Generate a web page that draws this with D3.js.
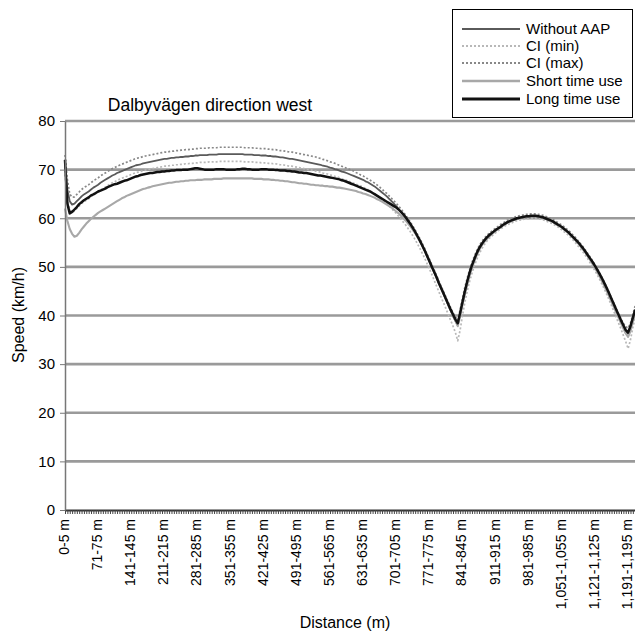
<!DOCTYPE html>
<html><head><meta charset="utf-8">
<script src="https://cdn.jsdelivr.net/npm/d3@7"></script>
<style>body{margin:0;background:#fff}svg{display:block;font-family:"Liberation Sans",Arial,sans-serif}</style>
</head><body><svg id="c" width="635" height="643"></svg>
<script>
// ---- DATA ----
const title = "Dalbyvägen direction west";
const yLabel = "Speed (km/h)";
const xLabel = "Distance (m)";
const yTicks = [0,10,20,30,40,50,60,70,80];
const tickLabels = ["0-5 m","71-75 m","141-145 m","211-215 m","281-285 m","351-355 m","421-425 m","491-495 m","561-565 m","631-635 m","701-705 m","771-775 m","841-845 m","911-915 m","981-985 m","1,051-1,055 m","1,121-1,125 m","1,191-1,195 m"];
const nCategories = 242;
const seriesNames = ["Without AAP","CI (min)","CI (max)","Short time use","Long time use"];

const withoutAAP = [
71,66,63.5,62.8,63,63.5,64,64.5,64.9,65.2,
65.5,65.9,66.3,66.6,66.9,67.3,67.6,67.9,68.2,68.5,
68.8,69,69.3,69.5,69.7,69.9,70.1,70.3,70.5,70.7,
70.9,71,71.1,71.3,71.4,71.5,71.6,71.7,71.8,71.9,
72,72.1,72.2,72.2,72.3,72.4,72.4,72.5,72.5,72.6,
72.6,72.7,72.7,72.8,72.8,72.9,72.9,73,73,73,
73,73.1,73.1,73.1,73.1,73.2,73.2,73.2,73.2,73.2,
73.2,73.2,73.2,73.2,73.2,73.2,73.1,73.1,73.1,73.1,
73,73,73,72.9,72.9,72.9,72.8,72.8,72.7,72.7,
72.6,72.5,72.5,72.4,72.3,72.2,72.2,72.1,72,71.9,
71.8,71.7,71.6,71.5,71.4,71.3,71.2,71.1,71,70.8,
70.7,70.6,70.4,70.3,70.1,70,69.8,69.6,69.5,69.3,
69.1,68.9,68.7,68.5,68.3,68.1,67.9,67.6,67.4,67.1,
66.8,66.5,66.1,65.7,65.3,64.9,64.5,64,63.5,63,
62.5,61.9,61.3,60.7,60.1,59.4,58.7,57.9,57.1,56.2,
55.3,54.3,53.3,52.2,51.1,50,48.9,47.8,46.6,45.5,
44.4,43.3,42.1,41,39.9,38.9,38,40.3,42.6,44.9,
46.9,48.7,50.3,51.6,52.8,53.8,54.6,55.3,55.9,56.4,
56.8,57.2,57.6,57.9,58.2,58.5,58.8,59.1,59.3,59.5,
59.7,59.9,60,60.1,60.2,60.3,60.3,60.4,60.4,60.4,
60.3,60.2,60.1,59.9,59.7,59.5,59.3,59,58.7,58.4,
58.1,57.7,57.3,56.9,56.4,55.9,55.4,54.8,54.2,53.6,
52.9,52.2,51.5,50.7,49.9,49.1,48.2,47.3,46.3,45.3,
44.2,43.1,42,40.9,39.8,38.7,37.6,36.7,36.2,37.2,
39,40.8];

const ciMin = [
69,64,61.8,61.2,61.5,62,62.5,63,63.4,63.7,
64,64.4,64.8,65.1,65.4,65.8,66.1,66.4,66.7,67,
67.3,67.5,67.8,68,68.2,68.4,68.6,68.8,69,69.2,
69.4,69.5,69.6,69.8,69.9,70,70.1,70.2,70.3,70.4,
70.5,70.6,70.7,70.7,70.8,70.9,70.9,71,71,71.1,
71.1,71.2,71.2,71.3,71.3,71.4,71.4,71.5,71.5,71.5,
71.5,71.6,71.6,71.6,71.6,71.7,71.7,71.7,71.7,71.7,
71.7,71.7,71.7,71.7,71.7,71.7,71.6,71.6,71.6,71.6,
71.5,71.5,71.5,71.4,71.4,71.4,71.3,71.3,71.2,71.2,
71.1,71,71,70.9,70.8,70.7,70.7,70.6,70.5,70.4,
70.3,70.2,70.1,70,69.9,69.8,69.7,69.6,69.5,69.3,
69.2,69.1,68.9,68.8,68.6,68.5,68.3,68.1,68,67.8,
67.6,67.4,67.2,67,66.8,66.6,66.4,66.1,65.9,65.6,
65.3,65,64.6,64.2,63.8,63.4,63,62.5,62,61.5,
61,60.4,59.8,59.2,58.6,57.9,57.2,56.4,55.6,54.7,
53.8,52.8,51.8,50.7,49.6,48.5,47.3,46.1,44.9,43.7,
42.6,41.4,40.2,39,37.8,36.5,34.8,37,40,42.7,
45,47,48.7,50.2,51.5,52.6,53.6,54.4,55.1,55.7,
56.2,56.6,57,57.4,57.7,58.1,58.4,58.7,58.9,59.1,
59.3,59.5,59.6,59.7,59.8,59.9,59.9,60,60,60,
59.9,59.8,59.7,59.5,59.3,59.1,58.9,58.6,58.3,58,
57.6,57.2,56.8,56.4,55.9,55.4,54.8,54.2,53.6,53,
52.3,51.6,50.8,50,49.2,48.3,47.4,46.4,45.4,44.3,
43.2,42,40.8,39.6,38.4,37.2,35.9,34.6,33.2,35,
37.5,39.6];

const ciMax = [
73,68,65,64.3,64.4,64.9,65.4,65.9,66.3,66.6,
66.9,67.3,67.7,68,68.3,68.7,69,69.3,69.6,69.9,
70.2,70.4,70.7,70.9,71.1,71.3,71.5,71.7,71.9,72.1,
72.3,72.4,72.5,72.7,72.8,72.9,73,73.1,73.2,73.3,
73.4,73.5,73.6,73.6,73.7,73.8,73.8,73.9,73.9,74,
74,74.1,74.1,74.2,74.2,74.3,74.3,74.4,74.4,74.4,
74.4,74.5,74.5,74.5,74.5,74.6,74.6,74.6,74.6,74.6,
74.6,74.6,74.6,74.6,74.6,74.6,74.5,74.5,74.5,74.5,
74.4,74.4,74.4,74.3,74.3,74.3,74.2,74.2,74.1,74.1,
74,73.9,73.9,73.8,73.7,73.6,73.6,73.5,73.4,73.3,
73.2,73.1,73,72.9,72.8,72.7,72.6,72.4,72.3,72.1,
72,71.8,71.6,71.5,71.3,71.1,70.9,70.7,70.5,70.3,
70.1,69.9,69.7,69.4,69.2,68.9,68.7,68.4,68.1,67.8,
67.5,67.2,66.8,66.4,66,65.5,65.1,64.6,64.1,63.6,
63.1,62.5,61.9,61.3,60.6,59.9,59.2,58.4,57.6,56.7,
55.8,54.8,53.8,52.7,51.6,50.5,49.4,48.3,47.1,46,
44.9,43.8,42.7,41.6,40.6,39.7,39,41.2,43.5,45.8,
47.7,49.4,50.9,52.2,53.3,54.3,55.1,55.8,56.3,56.8,
57.2,57.6,58,58.3,58.7,59,59.3,59.6,59.8,60,
60.2,60.4,60.5,60.6,60.7,60.8,60.8,60.9,60.9,60.9,
60.8,60.7,60.6,60.4,60.2,60,59.8,59.5,59.2,58.9,
58.6,58.2,57.8,57.4,56.9,56.4,55.9,55.3,54.7,54.1,
53.4,52.7,52,51.2,50.4,49.6,48.7,47.8,46.8,45.8,
44.7,43.6,42.5,41.4,40.3,39.3,38.4,37.7,37.4,38.4,
40.2,42];

const shortUse = [
62,59.5,57.8,56.8,56.2,56.4,57,57.7,58.3,58.9,
59.4,59.9,60.3,60.7,61.1,61.4,61.7,62,62.3,62.6,
62.9,63.2,63.5,63.8,64.1,64.3,64.6,64.8,65,65.2,
65.4,65.6,65.8,66,66.1,66.3,66.4,66.6,66.7,66.8,
66.9,67,67.1,67.2,67.3,67.3,67.4,67.5,67.5,67.6,
67.6,67.7,67.7,67.8,67.8,67.8,67.9,67.9,67.9,68,
68,68,68,68.1,68.1,68.1,68.1,68.2,68.2,68.2,
68.2,68.2,68.2,68.2,68.2,68.2,68.2,68.2,68.2,68.2,
68.1,68.1,68.1,68.1,68,68,68,67.9,67.9,67.8,
67.8,67.7,67.7,67.6,67.6,67.5,67.4,67.4,67.3,67.2,
67.2,67.1,67.1,67,66.9,66.9,66.8,66.8,66.7,66.7,
66.6,66.6,66.5,66.5,66.4,66.3,66.3,66.2,66.1,66,
65.9,65.8,65.7,65.6,65.4,65.3,65.1,65,64.8,64.6,
64.4,64.2,63.9,63.7,63.4,63.1,62.8,62.5,62.2,61.8,
61.4,61,60.5,60,59.5,58.9,58.3,57.6,56.9,56.1,
55.3,54.4,53.4,52.4,51.3,50.2,49.1,48,46.8,45.7,
44.5,43.4,42.2,41.1,40,38.9,37.8,39.9,42.2,44.4,
46.4,48.2,49.8,51.2,52.4,53.4,54.3,55,55.6,56.1,
56.5,57,57.4,57.8,58.1,58.5,58.8,59.1,59.3,59.5,
59.7,59.9,60,60.1,60.2,60.3,60.3,60.4,60.4,60.4,
60.3,60.2,60.1,59.9,59.7,59.5,59.3,59,58.7,58.4,
58.1,57.7,57.3,56.9,56.4,55.9,55.4,54.8,54.2,53.6,
52.9,52.2,51.4,50.6,49.8,48.9,48,47,46,45,
43.9,42.8,41.7,40.6,39.5,38.4,37.3,36.3,35.6,36.8,
38.6,40.4];

const longUse = [
72,63,61,61.3,61.8,62.3,62.9,63.3,63.7,64,
64.3,64.7,64.9,65.2,65.5,65.7,65.9,66.1,66.4,66.6,
66.8,67,67.1,67.3,67.5,67.7,67.8,68,68.2,68.4,
68.6,68.7,68.9,69,69.1,69.2,69.3,69.3,69.4,69.5,
69.5,69.6,69.6,69.7,69.7,69.8,69.8,69.9,69.9,69.9,
70,70,70,70.1,70.2,70.3,70.3,70.2,70.1,70,
70,70,70,70,70.1,70.1,70.1,70.1,70,70,
70,70,70,70.1,70.1,70.2,70.2,70.1,70.1,70,
70,70,70,70.1,70.1,70.1,70,70,70,69.9,
69.9,69.8,69.8,69.8,69.7,69.7,69.6,69.6,69.5,69.4,
69.4,69.3,69.3,69.2,69.1,69,68.9,68.8,68.8,68.7,
68.6,68.5,68.4,68.3,68.2,68.1,68,67.8,67.7,67.5,
67.3,67.1,66.9,66.7,66.5,66.3,66.1,65.9,65.7,65.5,
65.2,64.9,64.6,64.3,64,63.7,63.4,63.1,62.8,62.5,
62.2,61.8,61.3,60.8,60.2,59.5,58.8,58,57.2,56.3,
55.4,54.4,53.4,52.3,51.2,50.1,49,47.9,46.7,45.6,
44.5,43.4,42.3,41.2,40.2,39.2,38.4,40.5,42.8,45,
47,48.8,50.3,51.6,52.8,53.8,54.6,55.3,55.9,56.4,
56.8,57.2,57.6,57.9,58.2,58.6,58.9,59.2,59.4,59.6,
59.8,60,60.1,60.2,60.3,60.4,60.4,60.5,60.5,60.5,
60.4,60.3,60.2,60,59.8,59.6,59.4,59.1,58.8,58.5,
58.2,57.8,57.4,57,56.5,56,55.5,55,54.4,53.8,
53.1,52.4,51.7,51,50.2,49.4,48.5,47.6,46.6,45.6,
44.5,43.4,42.3,41.2,40.1,39,38,37,36.5,37.8,
39.5,41.2];

// ---- CHART ----
const categories = d3.range(nCategories).map(i => {
  const f = d3.format(",");
  return (i === 0 ? "0" : f(5*i+1)) + "-" + f(5*i+5) + " m";
});
const seriesData = [withoutAAP, ciMin, ciMax, shortUse, longUse];
const styles = [
  {color:"#5a5a5a", width:1.8, dash:null},
  {color:"#b8b8b8", width:1.7, dash:"2,2"},
  {color:"#888888", width:1.7, dash:"2,2"},
  {color:"#a8a8a8", width:2.1, dash:null},
  {color:"#111111", width:2.5, dash:null}
];

const svg = d3.select("#c");
const x = d3.scalePoint().domain(categories).range([65, 65 + 241*2.366]);
const y = d3.scaleLinear().domain([0,80]).range([510,121]);

// gridlines
svg.append("g").selectAll("line").data(yTicks.filter(d=>d>0)).join("line")
  .attr("x1",65).attr("x2",635).attr("y1",d=>y(d)).attr("y2",d=>y(d))
  .attr("stroke","#9a9a9a").attr("stroke-width",2.6);

// lines
const line = d3.line().x((d,i)=>x(categories[i])).y(d=>y(d));
svg.append("g").selectAll("path").data(seriesData).join("path")
  .attr("d", d=>line(d)).attr("fill","none")
  .attr("stroke",(d,i)=>styles[i].color)
  .attr("stroke-width",(d,i)=>styles[i].width)
  .attr("stroke-dasharray",(d,i)=>styles[i].dash)
  .attr("stroke-linejoin","round");

// x axis
const xAxis = svg.append("g").attr("transform","translate(0,"+y(0)+")")
  .call(d3.axisBottom(x).tickSize(4).tickSizeOuter(0)
    .tickFormat(d => tickLabels.includes(d) ? d : ""));
xAxis.select(".domain").attr("stroke","#333").attr("stroke-width",2);
xAxis.selectAll(".tick line").attr("stroke","#444");
xAxis.selectAll(".tick text")
  .attr("transform","rotate(-90)")
  .attr("text-anchor","end")
  .attr("x",-9).attr("y",-1).attr("dy","0.32em")
  .attr("font-size","14px").attr("fill","#000")
  .attr("font-family","'Liberation Sans',Arial,sans-serif");

// y axis
const yAxis = svg.append("g").attr("transform","translate(65,0)")
  .call(d3.axisLeft(y).tickValues(yTicks).tickSize(5).tickSizeOuter(0));
yAxis.select(".domain").attr("stroke","#777").attr("stroke-width",1.5);
yAxis.selectAll(".tick line").attr("stroke","#777");
yAxis.selectAll(".tick text").attr("font-size","15px").attr("fill","#000")
  .attr("x",-10).attr("font-family","'Liberation Sans',Arial,sans-serif");

// titles
svg.append("text").attr("x",210).attr("y",111).attr("text-anchor","middle")
  .attr("font-size","17.5px").text(title);
svg.append("text").attr("transform","translate(24,315) rotate(-90)")
  .attr("text-anchor","middle").attr("font-size","16px").text(yLabel);
svg.append("text").attr("x",345).attr("y",628).attr("text-anchor","middle")
  .attr("font-size","16px").text(xLabel);

// legend
const lg = svg.append("g");
lg.append("rect").attr("x",452.5).attr("y",9.5).attr("width",180).attr("height",108)
  .attr("fill","#fff").attr("stroke","#000");
const rows = [29,46,63,81,99];
seriesNames.forEach((n,i)=>{
  lg.append("line").attr("x1",462).attr("x2",520).attr("y1",rows[i]).attr("y2",rows[i])
    .attr("stroke",styles[i].color).attr("stroke-width",styles[i].width+0.3)
    .attr("stroke-dasharray",styles[i].dash);
  lg.append("text").attr("x",526).attr("y",rows[i]).attr("dy","0.35em")
    .attr("font-size","15px").text(n);
});
</script></body></html>
